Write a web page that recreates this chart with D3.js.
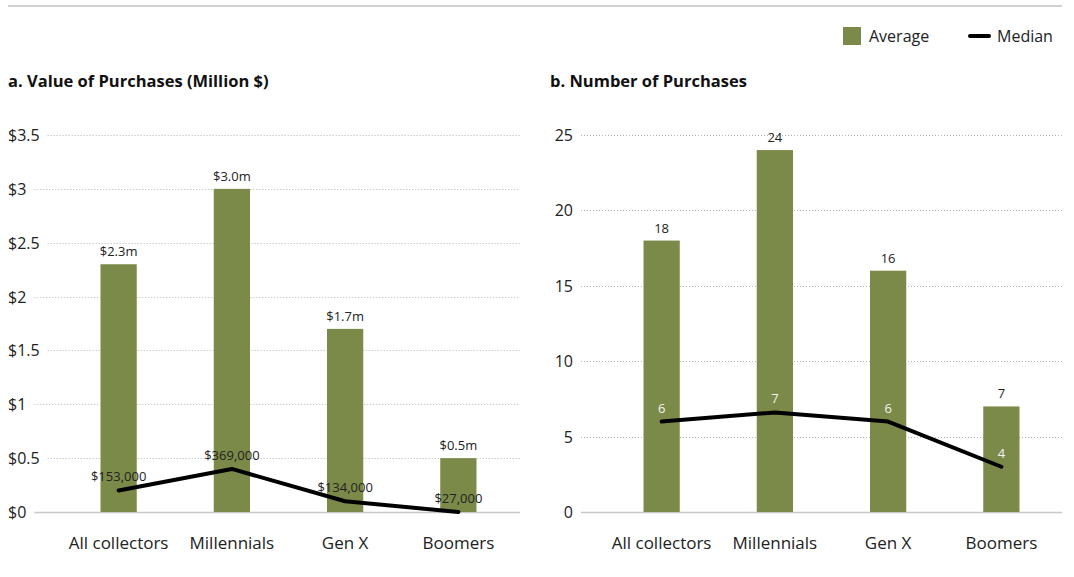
<!DOCTYPE html>
<html>
<head>
<meta charset="utf-8">
<script src="https://cdn.jsdelivr.net/npm/d3@7"></script>
<style>
  body { margin: 0; background: #fff; }
  svg { display: block; font-family: "Open Sans", sans-serif; }
</style>
</head>
<body>
<svg id="chart" width="1074" height="577"></svg>
<script>
"use strict";

var categories = ["All collectors", "Millennials", "Gen X", "Boomers"];

// a. value of purchases (million $)
var valueAverage = [2.3, 3.0, 1.7, 0.5];
var valueAverageLabels = ["$2.3m", "$3.0m", "$1.7m", "$0.5m"];
var valueMedian = [0.2, 0.4, 0.1, 0.0];
var valueMedianLabels = ["$153,000", "$369,000", "$134,000", "$27,000"];
var valueTicks = [0, 0.5, 1, 1.5, 2, 2.5, 3, 3.5];

// b. number of purchases
var countAverage = [18, 24, 16, 7];
var countAverageLabels = ["18", "24", "16", "7"];
var countMedian = [6, 6.6, 6, 3];
var countMedianLabels = ["6", "7", "6", "4"];
var countTicks = [0, 5, 10, 15, 20, 25];

var green = "#7b8a48";
var svg = d3.select("#chart");

// top rule
svg.append("line")
    .attr("x1", 8).attr("x2", 1062)
    .attr("y1", 6).attr("y2", 6)
    .attr("stroke", "#d0d0d0")
    .attr("stroke-width", 2);

// legend
var legend = svg.append("g");
legend.append("rect")
    .attr("x", 843).attr("y", 27)
    .attr("width", 18).attr("height", 18)
    .attr("fill", green);
legend.append("text")
    .attr("x", 869).attr("y", 42)
    .attr("font-size", 16).attr("fill", "#222")
    .text("Average");
legend.append("line")
    .attr("x1", 970).attr("x2", 989)
    .attr("y1", 36).attr("y2", 36)
    .attr("stroke", "#000").attr("stroke-width", 4)
    .attr("stroke-linecap", "round");
legend.append("text")
    .attr("x", 997).attr("y", 42)
    .attr("font-size", 16).attr("fill", "#222")
    .text("Median");

function drawPanel(opts) {
  var g = svg.append("g");

  g.append("text")
      .attr("x", opts.titleX).attr("y", 87)
      .attr("font-size", 16.5).attr("font-weight", 700)
      .attr("fill", "#111")
      .text(opts.title);

  var x = d3.scaleBand()
      .domain(categories)
      .range(opts.xRange)
      .paddingInner(0.68)
      .paddingOuter(0.34);

  var y = d3.scaleLinear()
      .domain(opts.domain)
      .range([512, 135]);

  // y tick labels + dotted gridlines
  var ticks = g.selectAll(".tick")
      .data(opts.ticks)
    .enter().append("g")
      .attr("class", "tick");

  ticks.append("text")
      .attr("x", opts.labelX)
      .attr("y", function(d) { return y(d) + 6; })
      .attr("text-anchor", opts.labelAnchor)
      .attr("font-size", 16)
      .attr("fill", "#222")
      .text(opts.tickFormat);

  ticks.each(function(d) {
    var t = d3.select(this).select("text").node();
    var bb = t.getBBox();
    var start = bb.x + bb.width + 8;
    d3.select(this).append("line")
        .attr("x1", start)
        .attr("x2", opts.gridEnd)
        .attr("y1", Math.round(y(d)) + 0.5)
        .attr("y2", Math.round(y(d)) + 0.5)
        .attr("stroke", d === 0 ? "#c8c8c8" : "#b5b5b5")
        .attr("stroke-width", d === 0 ? 1.5 : 1)
        .attr("stroke-dasharray", d === 0 ? null : "1,2");
  });

  // bars
  g.selectAll(".bar")
      .data(opts.average)
    .enter().append("rect")
      .attr("class", "bar")
      .attr("x", function(d, i) { return x(categories[i]); })
      .attr("width", x.bandwidth())
      .attr("y", function(d) { return y(d); })
      .attr("height", function(d) { return y(0) - y(d); })
      .attr("fill", green);

  g.selectAll(".avg-label")
      .data(opts.average)
    .enter().append("text")
      .attr("class", "avg-label")
      .attr("x", function(d, i) { return x(categories[i]) + x.bandwidth() / 2; })
      .attr("y", function(d) { return y(d) - 8; })
      .attr("text-anchor", "middle")
      .attr("font-size", 13)
      .attr("fill", "#222")
      .text(function(d, i) { return opts.averageLabels[i]; });

  // median line
  var line = d3.line()
      .x(function(d, i) { return x(categories[i]) + x.bandwidth() / 2; })
      .y(function(d) { return y(d); });

  g.append("path")
      .datum(opts.median)
      .attr("fill", "none")
      .attr("stroke", "#000")
      .attr("stroke-width", 4)
      .attr("stroke-linejoin", "round")
      .attr("stroke-linecap", "round")
      .attr("d", line);

  g.selectAll(".med-label")
      .data(opts.median)
    .enter().append("text")
      .attr("class", "med-label")
      .attr("x", function(d, i) { return x(categories[i]) + x.bandwidth() / 2; })
      .attr("y", function(d) { return y(d) - 9; })
      .attr("text-anchor", "middle")
      .attr("font-size", 13)
      .attr("fill", opts.medianColor)
      .text(function(d, i) { return opts.medianLabels[i]; });

  // category labels
  g.selectAll(".cat")
      .data(categories)
    .enter().append("text")
      .attr("class", "cat")
      .attr("x", function(d) { return x(d) + x.bandwidth() / 2; })
      .attr("y", 549)
      .attr("text-anchor", "middle")
      .attr("font-size", 17)
      .attr("fill", "#222")
      .text(function(d) { return d; });
}

drawPanel({
  title: "a. Value of Purchases (Million $)",
  titleX: 8,
  xRange: [62, 515],
  domain: [0, 3.5],
  ticks: valueTicks,
  tickFormat: function(d) { return "$" + d; },
  labelX: 8,
  labelAnchor: "start",
  gridEnd: 520,
  average: valueAverage,
  averageLabels: valueAverageLabels,
  median: valueMedian,
  medianLabels: valueMedianLabels,
  medianColor: "#222"
});

drawPanel({
  title: "b. Number of Purchases",
  titleX: 550,
  xRange: [605, 1058],
  domain: [0, 25],
  ticks: countTicks,
  tickFormat: function(d) { return d; },
  labelX: 573,
  labelAnchor: "end",
  gridEnd: 1062,
  average: countAverage,
  averageLabels: countAverageLabels,
  median: countMedian,
  medianLabels: countMedianLabels,
  medianColor: "#f2f2f2"
});
</script>
</body>
</html>
